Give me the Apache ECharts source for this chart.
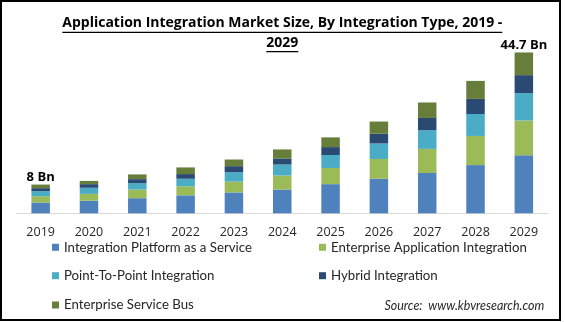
<!DOCTYPE html>
<html><head><meta charset="utf-8">
<script src="https://cdn.jsdelivr.net/npm/echarts@6/dist/echarts.min.js"></script>
<style>html,body{margin:0;padding:0;background:#fff}#c{width:565px;height:322px}</style>
</head><body><div id="c"></div>
<script>
// ---- data ----
const years = ['2019','2020','2021','2022','2023','2024','2025','2026','2027','2028','2029'];
const seriesNames = ['Integration Platform as a Service','Enterprise Application Integration','Point-To-Point Integration','Hybrid Integration','Enterprise Service Bus'];
const iPaaS  = [3.0, 3.5, 4.2, 5.0, 5.8, 6.6, 8.1, 9.6, 11.2, 13.4, 16.1];
const eai    = [1.76, 1.9, 2.4, 2.5, 3.0, 3.9, 4.5, 5.5, 6.7, 8.1, 9.7];
const p2p    = [1.4, 1.7, 1.8, 2.1, 2.6, 3.05, 3.6, 4.3, 5.2, 6.1, 7.6];
const hybrid = [0.83, 1.0, 1.1, 1.3, 1.7, 1.7, 2.2, 2.7, 3.4, 4.2, 5.0];
const esb    = [1.0, 0.9, 1.3, 1.85, 1.85, 2.5, 2.7, 3.4, 4.3, 5.0, 6.3];
const totalLabels = ['8 Bn','','','','','','','','','','44.7 Bn'];
const titleLines = ['Application Integration Market Size, By Integration Type, 2019 -', '2029'];
const sourceText = 'Source:  www.kbvresearch.com';

// ---- styles ----
const colors = ['#4F81BD','#9BBB59','#4BACC6','#2A4A73','#677D3A'];
const ctx = document.createElement('canvas').getContext('2d');
function measure(text, font){ ctx.font = font; return ctx.measureText(text).width; }
const FAM = '"Open Sans"';
const LFAM = 'Lato';
const titleSize = 14;
const t1w = measure(titleLines[0], 'bold ' + titleSize + 'px ' + FAM);
const tScale = 440 / t1w;
const t2w = measure(titleLines[1], 'bold ' + titleSize + 'px ' + FAM) * tScale;
const legSize = Math.min(13.5, 13 * 188 / measure(seriesNames[0], '13px ' + LFAM));
const srcSize = 13 * 160 / measure(sourceText, 'italic 13px ' + LFAM);

const allData = [iPaaS, eai, p2p, hybrid, esb];
const series = allData.map((d, i) => ({
  name: seriesNames[i], type: 'bar', stack: 'total', data: d, barWidth: 18.5,
  itemStyle: { color: colors[i] },
  label: i === 4 ? { show: true, position: 'top', distance: 1, formatter: p => totalLabels[p.dataIndex],
    fontFamily: FAM, fontWeight: 'bold', fontSize: 13, color: '#000' } : { show: false }
}));

const legPos = [[52, 247.3],[319, 247.3],[52, 275.7],[319, 275.7],[52, 305]];
const legends = seriesNames.map((n, i) => ({
  data: [n], left: legPos[i][0], top: legPos[i][1] - 7, padding: 0, icon: 'rect',
  itemWidth: 7, itemHeight: 7, selectedMode: false,
  textStyle: { fontFamily: LFAM, fontSize: legSize, color: '#262626', lineHeight: 14 }
}));

const cx = 282.3;
const chart = echarts.init(document.getElementById('c'), null, { renderer: 'canvas' });
chart.setOption({
  animation: false,
  backgroundColor: '#fff',
  grid: { left: 16.5, right: 17, top: 33.4, bottom: 108.7, containLabel: false },
  xAxis: { type: 'category', data: years,
    axisLine: { lineStyle: { color: '#d9d9d9', width: 1 } }, axisTick: { show: false },
    axisLabel: { fontFamily: FAM, fontSize: 12.5, color: '#262626', margin: 13 } },
  yAxis: { type: 'value', min: 0, max: 50, show: false, splitLine: { show: false } },
  legend: legends,
  series: series,
  graphic: [
    { type: 'text', x: cx, y: 23.3, scaleX: tScale, style: { text: titleLines[0], fontFamily: FAM, fontWeight: 'bold', fontSize: titleSize, fill: '#000', textAlign: 'center', textVerticalAlign: 'middle' } },
    { type: 'text', x: cx, y: 43.3, scaleX: tScale, style: { text: titleLines[1], fontFamily: FAM, fontWeight: 'bold', fontSize: titleSize, fill: '#000', textAlign: 'center', textVerticalAlign: 'middle' } },
    { type: 'line', shape: { x1: cx - 220, y1: 32.3, x2: cx + 220, y2: 32.3 }, style: { stroke: '#000', lineWidth: 1.3 } },
    { type: 'line', shape: { x1: cx - t2w / 2, y1: 51.7, x2: cx + t2w / 2, y2: 51.7 }, style: { stroke: '#000', lineWidth: 1.3 } },
    { type: 'text', x: 544.3, y: 306, style: { text: sourceText, fontFamily: LFAM, fontStyle: 'italic', fontSize: srcSize, fill: '#262626', textAlign: 'right', textVerticalAlign: 'middle' } },
    { type: 'rect', shape: { x: 1, y: 1, width: 559, height: 319 }, style: { fill: 'none', stroke: '#000', lineWidth: 2 }, silent: true }
  ]
});
</script></body></html>
